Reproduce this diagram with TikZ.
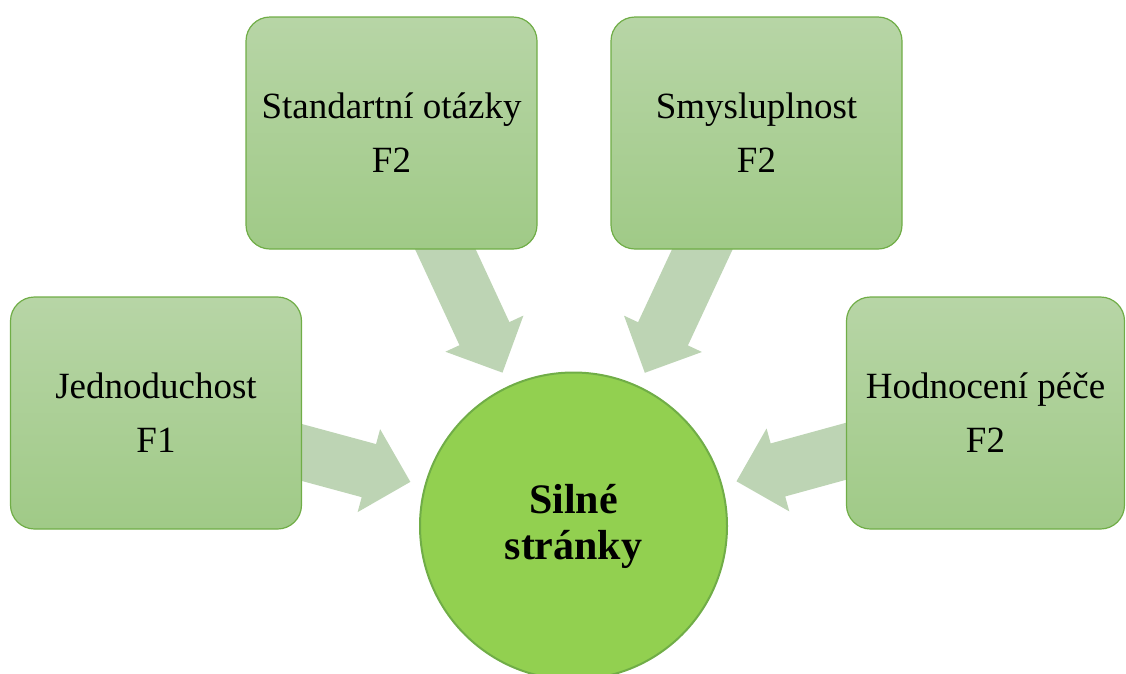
\documentclass[tikz,border=0pt]{standalone}
\usepackage{fontspec}
\setmainfont{Liberation Serif}
\usetikzlibrary{calc, backgrounds}
\definecolor{boxtop}{RGB}{183, 213, 166}
\definecolor{boxbottom}{RGB}{160, 202, 135}
\definecolor{boxline}{RGB}{112, 173, 71}
\definecolor{hubfill}{RGB}{146, 208, 80}
\definecolor{blockfill}{RGB}{189, 212, 180}
\tikzset{
    factor/.style={rectangle, rounded corners=24pt, draw=boxline, line width=1.2pt, top color=boxtop, bottom color=boxbottom, align=center, minimum width=291pt, minimum height=232pt, inner sep=0pt, font=\fontsize{37}{54}\selectfont},
    hub/.style={circle, draw=boxline, line width=2pt, fill=hubfill, minimum size=307pt, inner sep=0pt, align=center, font=\fontsize{42}{46}\selectfont\bfseries},
    blockarrow/.style={fill=blockfill, draw=none}
}
% wide arrow from a box towards the hub, stopping short of its rim
\newcommand{\widearrow}[2]{%
    \coordinate (tip) at ($(#2.center)!169pt!(#1.center)$);
    \coordinate (base) at ($(tip)!43pt!(#1.center)$);
    \fill [blockarrow] ($(#1.center)!27.5pt!90:(tip)$) -- ($(base)!27.5pt!90:(tip)$) -- ($(base)!43pt!90:(tip)$) -- (tip)
        -- ($(base)!43pt!-90:(tip)$) -- ($(base)!27.5pt!-90:(tip)$) -- ($(#1.center)!27.5pt!-90:(tip)$) -- cycle;
}
\begin{document}
\begin{tikzpicture}[x=1pt, y=-1pt]

    \useasboundingbox (0,0) rectangle (1126,673);

    % Centre
    \node (hub) [hub] at (573.5,526) {Silné\\stránky};

    % Factors
    \node (simple) [factor] at (156,413) {Jednoduchost\\F1};
    \node (standard) [factor] at (391.5,133) {Standartní otázky\\F2};
    \node (meaning) [factor] at (756.5,133) {Smysluplnost\\F2};
    \node (care) [factor, minimum width=278pt] at (985.5,413) {Hodnocení péče\\F2};

    % Arrows
    \begin{scope}[on background layer]
        \widearrow{simple}{hub}
        \widearrow{standard}{hub}
        \widearrow{meaning}{hub}
        \widearrow{care}{hub}
    \end{scope}

\end{tikzpicture}
\end{document}
